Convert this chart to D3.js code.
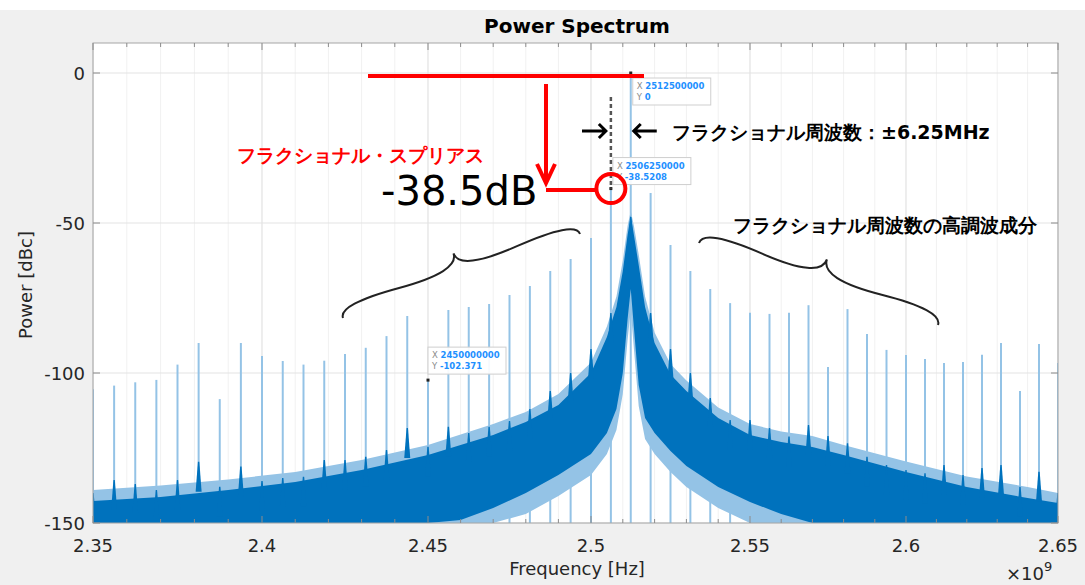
<!DOCTYPE html>
<html>
<head>
<meta charset="utf-8">
<script src="https://cdn.jsdelivr.net/npm/d3@7"></script>
<style>
  body { margin: 0; background: #fff; }
  svg text { font-family: "DejaVu Sans", sans-serif; }
</style>
</head>
<body>
<div id="chart"></div>
<script>
// tick labels
const xTicks = [2.35, 2.4, 2.45, 2.5, 2.55, 2.6, 2.65];
const yTicks = [0, -50, -100, -150];

// spur lines: frequency [GHz], peak [dBc], small noise bump at the base [dBc]
const spurFreq = [2.35, 2.35625, 2.3625, 2.36875, 2.375, 2.38125, 2.3875, 2.39375, 2.4, 2.40625,
  2.4125, 2.41875, 2.425, 2.43125, 2.4375, 2.44375, 2.45, 2.45625, 2.4625, 2.46875,
  2.475, 2.48125, 2.4875, 2.49375, 2.5, 2.50625, 2.5125, 2.51875, 2.525, 2.53125,
  2.5375, 2.54375, 2.55, 2.55625, 2.5625, 2.56875, 2.575, 2.58125, 2.5875, 2.59375,
  2.6, 2.60625, 2.6125, 2.61875, 2.625, 2.63125, 2.6375, 2.64375, 2.65];
const spurLevel = [-105.4, -104.2, -103.1, -102.3, -97.2, -90, -108.7, -90, -94.3, -96,
  -97.2, -95.9, -93.7, -91.6, -87.7, -81, -102.4, -79, -78, -77,
  -74, -71, -66, -62, -55, -38.5, 0, -40, -57.3, -66,
  -72, -76.7, -79.9, -80.3, -79.9, -77.4, -98, -78.7, -87, -92.3,
  -94, -95.3, -96.7, -96.3, -93.9, -90, -106, -90.3, -96.7];
const spurBump = [-140, -135.7, -137, -139, -135.7, -129.6, -137.9, -131.2, -136, -135,
  -134.6, -129, -129, -127.9, -125.7, -118.3, -124.6, -117.9, -120, -117.9,
  -116, -112, -106, -100, -92, -80, -48, -80, -92, -100,
  -108.3, -115.7, -115.7, -118.3, -121.2, -117.3, -121, -123.4, -127.9, -130.7,
  -132.3, -133.4, -130.7, -134, -131.7, -130.7, -137.9, -132.9, -140];

// noise envelope [GHz] / [dBc]
const noiseFreq = [2.35, 2.37, 2.39, 2.41, 2.43, 2.45, 2.46, 2.47, 2.48, 2.49, 2.50, 2.505, 2.508, 2.510, 2.5115,
  2.5125, 2.5135, 2.515, 2.517, 2.520, 2.525, 2.53, 2.54, 2.55, 2.56, 2.57, 2.58, 2.60, 2.62, 2.64, 2.65];
const noiseTopLight = [-139, -137.5, -135.5, -133, -129, -124, -120.5, -117, -113, -107, -96.5, -84.5, -74.5, -62.5, -51,
  -46, -51, -60.5, -74.5, -86.5, -97, -102.5, -111.5, -117, -119.5, -121, -124, -129.5, -134.5, -138, -140];
const noiseTop = [-142.7, -141.3, -139, -136.3, -132.3, -127.3, -124, -120.7, -116.3, -110.7, -100, -88, -78, -66, -54,
  -47.5, -54, -64, -78, -90, -100.5, -106, -115, -120.7, -123, -124.7, -127.3, -133, -138, -141.7, -143.3];
const noiseBottom = [-150, -150, -150, -150, -150, -150, -149, -145, -140, -134, -127, -120, -112, -100, -82,
  -72, -85, -104, -115, -120, -126, -131, -138, -143, -147, -150, -150, -150, -150, -150, -150];
const noiseBottomLight = [-150, -150, -150, -150, -150, -150, -150, -150, -147, -141, -134, -127, -119, -107, -89,
  -79, -92, -111, -122, -127, -133, -138, -145, -150, -150, -150, -150, -150, -150, -150, -150];

// data tips
const tipFreq = [2.5125, 2.50625, 2.45];
const tipLevel = [0, -38.5208, -102.371];
const tipX = ["2512500000", "2506250000", "2450000000"];
const tipY = ["0", "-38.5208", "-102.371"];

const width = 1085, height = 585;
const blue = "#0072bd", lightBlue = "#94c3e6";

const svg = d3.select("#chart").append("svg")
  .attr("width", width).attr("height", height);

// figure background
svg.append("rect").attr("width", width).attr("height", height).attr("fill", "#fff");
svg.append("rect").attr("y", 10).attr("width", width).attr("height", height - 10).attr("fill", "#f0f0f0");

// scales (the screenshot is slightly squeezed towards the right, so x is piecewise)
const x = d3.scaleLinear().domain(xTicks).range([93, 262, 428, 591, 750, 906, 1058]);
const y = d3.scaleLinear().domain([-150, 10]).range([523, 43]);
const x0 = x.range()[0], x1 = 1058, y0 = y(10), y1 = y(-150);

svg.append("rect").attr("x", x0).attr("y", y0).attr("width", x1 - x0).attr("height", y1 - y0).attr("fill", "#fff");

// grid
const minorTicks = d3.range(235, 266).map(d => d / 100);
svg.append("g").selectAll("line").data(minorTicks).join("line")
  .attr("x1", d => x(d)).attr("x2", d => x(d)).attr("y1", y0).attr("y2", y1)
  .attr("stroke", "#f1f1f1").attr("stroke-width", 1);
svg.append("g").selectAll("line").data(xTicks).join("line")
  .attr("x1", d => x(d)).attr("x2", d => x(d)).attr("y1", y0).attr("y2", y1)
  .attr("stroke", "#e3e3e3").attr("stroke-width", 1);
svg.append("g").selectAll("line").data(yTicks).join("line")
  .attr("x1", x0).attr("x2", x1).attr("y1", d => y(d)).attr("y2", d => y(d))
  .attr("stroke", "#e3e3e3").attr("stroke-width", 1);

svg.append("clipPath").attr("id", "plotclip")
  .append("rect").attr("x", x0).attr("y", y0).attr("width", x1 - x0).attr("height", y1 - y0);
const plot = svg.append("g").attr("clip-path", "url(#plotclip)");

const noise = noiseFreq.map((f, i) => ({
  f: f, top: noiseTop[i], topL: noiseTopLight[i], bot: noiseBottom[i], botL: noiseBottomLight[i]
}));

// spur lines
plot.append("g").selectAll("line").data(spurFreq).join("line")
  .attr("x1", d => x(d)).attr("x2", d => x(d))
  .attr("y1", y(-150)).attr("y2", (d, i) => y(spurLevel[i]))
  .attr("stroke", lightBlue).attr("stroke-width", 2);

// light (sparse) fringe of the noise trace
plot.append("path").datum(noise)
  .attr("fill", lightBlue)
  .attr("d", d3.area().x(d => x(d.f)).y0(d => y(d.botL)).y1(d => y(d.topL)));

// dense part of the noise trace
plot.append("path").datum(noise)
  .attr("fill", blue)
  .attr("d", d3.area().x(d => x(d.f)).y0(d => y(d.bot)).y1(d => y(d.top)));

// noise bumps under each spur
plot.append("g").selectAll("path").data(spurFreq).join("path")
  .attr("fill", blue)
  .attr("d", (d, i) => {
    const px = x(d), top = y(spurBump[i]), base = y(spurBump[i] - 10);
    return `M${px - 3},${base}L${px - 0.7},${top}L${px + 0.7},${top}L${px + 3},${base}Z`;
  });

// axes box and ticks
svg.append("rect").attr("x", x0).attr("y", y0).attr("width", x1 - x0).attr("height", y1 - y0)
  .attr("fill", "none").attr("stroke", "#a6a6a6").attr("stroke-width", 1);
const tickG = svg.append("g").attr("stroke", "#8c8c8c").attr("stroke-width", 1);
minorTicks.forEach(t => {
  const len = xTicks.some(m => Math.abs(m - t) < 1e-9) ? 7 : 4;
  tickG.append("line").attr("x1", x(t)).attr("x2", x(t)).attr("y1", y0).attr("y2", y0 + len);
  tickG.append("line").attr("x1", x(t)).attr("x2", x(t)).attr("y1", y1).attr("y2", y1 - len);
});
yTicks.forEach(t => {
  tickG.append("line").attr("x1", x0).attr("x2", x0 + 7).attr("y1", y(t)).attr("y2", y(t));
  tickG.append("line").attr("x1", x1).attr("x2", x1 - 7).attr("y1", y(t)).attr("y2", y(t));
});

svg.append("g").selectAll("text").data(xTicks).join("text")
  .attr("x", d => x(d)).attr("y", 552)
  .attr("text-anchor", "middle").attr("font-size", 18).attr("fill", "#262626")
  .text(d => d3.format("")(d));
svg.append("g").selectAll("text").data(yTicks).join("text")
  .attr("x", 85).attr("y", d => y(d) + 7)
  .attr("text-anchor", "end").attr("font-size", 18).attr("fill", "#262626")
  .text(d => d);

svg.append("text").attr("x", 577).attr("y", 33).attr("text-anchor", "middle")
  .attr("font-size", 20).attr("font-weight", "bold").attr("fill", "#000").text("Power Spectrum");
svg.append("text").attr("x", 577).attr("y", 575).attr("text-anchor", "middle")
  .attr("font-size", 18).attr("fill", "#262626").text("Frequency [Hz]");
svg.append("text").attr("transform", "translate(32,285) rotate(-90)").attr("text-anchor", "middle")
  .attr("font-size", 18).attr("fill", "#262626").text("Power [dBc]");
const exp = svg.append("text").attr("x", 1006).attr("y", 580).attr("font-size", 18).attr("fill", "#262626");
exp.append("tspan").text("×10");
exp.append("tspan").attr("dy", -9).attr("font-size", 13).text("9");

// data tips
const tipOffset = [[2, 5], [2, -31], [0, -33]];
tipFreq.forEach((f, i) => {
  const px = x(f), py = y(tipLevel[i]);
  const bx = px + tipOffset[i][0], by = py + tipOffset[i][1];
  const g = svg.append("g");
  g.append("rect").attr("x", bx).attr("y", by).attr("width", 78).attr("height", 27)
    .attr("fill", "#fff").attr("fill-opacity", 0.92).attr("stroke", "#cfcfcf").attr("stroke-width", 1);
  [["X", tipX[i]], ["Y", tipY[i]]].forEach((row, r) => {
    const t = g.append("text").attr("x", bx + 4).attr("y", by + 11 + r * 11).attr("font-size", 8.5);
    t.append("tspan").attr("fill", "#8a8a8a").text(row[0] + " ");
    t.append("tspan").attr("fill", "#1e90ff").attr("font-weight", "bold").text(row[1]);
  });
  g.append("rect").attr("x", px - 1.5).attr("y", py - 1.5).attr("width", 3).attr("height", 3).attr("fill", "#222");
});

// annotations
const red = "#ff0000";
const spurX = x(2.50625), spurY = y(-38.5208);
svg.append("line").attr("x1", spurX).attr("x2", spurX).attr("y1", 97).attr("y2", spurY)
  .attr("stroke", "#555").attr("stroke-width", 2.5).attr("stroke-dasharray", "4,3");
svg.append("line").attr("x1", 368).attr("x2", 644).attr("y1", 76).attr("y2", 76)
  .attr("stroke", red).attr("stroke-width", 4);
svg.append("line").attr("x1", 546).attr("x2", 546).attr("y1", 84).attr("y2", 182)
  .attr("stroke", red).attr("stroke-width", 4);
svg.append("path").attr("d", "M537,164L546,183L555,164").attr("fill", "none")
  .attr("stroke", red).attr("stroke-width", 4);
svg.append("line").attr("x1", 546).attr("x2", spurX - 15).attr("y1", 190).attr("y2", 190)
  .attr("stroke", red).attr("stroke-width", 4);
svg.append("circle").attr("cx", spurX).attr("cy", spurY).attr("r", 14.5)
  .attr("fill", "none").attr("stroke", red).attr("stroke-width", 4);

// ±6.25 MHz arrows
const cx = x(2.5125);
const ag = svg.append("g").attr("stroke", "#000").attr("stroke-width", 3).attr("fill", "none");
ag.append("path").attr("d", `M582,131H${spurX - 5}M${spurX - 12},124L${spurX - 5},131L${spurX - 12},138`);
ag.append("path").attr("d", `M${cx + 26},131H${cx + 3}M${cx + 10},124L${cx + 3},131L${cx + 10},138`);

const jp = "'Noto Sans CJK JP', sans-serif";
svg.append("text").attr("x", 672).attr("y", 139).attr("font-family", jp).attr("font-size", 19)
  .attr("font-weight", "bold").attr("fill", "#000").text("フラクショナル周波数：±6.25MHz");
svg.append("text").attr("x", 237).attr("y", 162).attr("font-family", jp).attr("font-size", 19)
  .attr("font-weight", "bold").attr("fill", red).text("フラクショナル・スプリアス");
svg.append("text").attr("x", 381).attr("y", 205).attr("font-family", "'Liberation Sans', Arial, sans-serif")
  .attr("font-size", 40).attr("fill", "#000").text("-38.5dB");
svg.append("text").attr("x", 733).attr("y", 232).attr("font-family", jp).attr("font-size", 19)
  .attr("font-weight", "bold").attr("fill", "#000").text("フラクショナル周波数の高調波成分");

// curly braces over the harmonic spurs
function bracePath(xa, ya, xb, yb, w, q) {
  let dx = xa - xb, dy = ya - yb;
  const len = Math.hypot(dx, dy);
  dx /= len; dy /= len;
  const qx1 = xa + q * w * dy, qy1 = ya - q * w * dx;
  const qx2 = (xa - 0.25 * len * dx) + (1 - q) * w * dy, qy2 = (ya - 0.25 * len * dy) - (1 - q) * w * dx;
  const tx = (xa - 0.5 * len * dx) + w * dy, ty = (ya - 0.5 * len * dy) - w * dx;
  const qx3 = xb + q * w * dy, qy3 = yb - q * w * dx;
  const qx4 = (xa - 0.75 * len * dx) + (1 - q) * w * dy, qy4 = (ya - 0.75 * len * dy) - (1 - q) * w * dx;
  return `M${xa},${ya}Q${qx1},${qy1} ${qx2},${qy2}T${tx},${ty}M${xb},${yb}Q${qx3},${qy3} ${qx4},${qy4}T${tx},${ty}`;
}
svg.append("path").attr("d", bracePath(580, 234, 343, 318, 24, 0.6))
  .attr("fill", "none").attr("stroke", "#222").attr("stroke-width", 2);
svg.append("path").attr("d", bracePath(938, 325, 699, 243, 26, 0.6))
  .attr("fill", "none").attr("stroke", "#222").attr("stroke-width", 2);
</script>
</body>
</html>
